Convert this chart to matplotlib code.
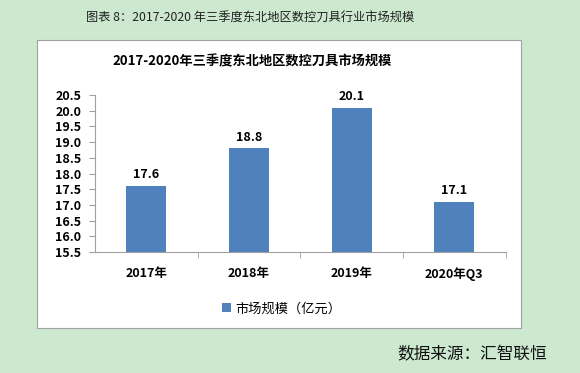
import matplotlib
matplotlib.use('Agg')
import matplotlib.pyplot as plt
from matplotlib.patches import Rectangle

plt.rcParams['font.family'] = ['Noto Sans CJK SC', 'DejaVu Sans']

# ---------------- DATA ----------------
categories = ["2017年", "2018年", "2019年", "2020年Q3"]
values = [17.6, 18.8, 20.1, 17.1]
yticks = [15.5, 16.0, 16.5, 17.0, 17.5, 18.0, 18.5, 19.0, 19.5, 20.0, 20.5]

caption = "图表 8：2017-2020 年三季度东北地区数控刀具行业市场规模"
chart_title = "2017-2020年三季度东北地区数控刀具市场规模"
series_name = "市场规模（亿元）"
source = "数据来源：汇智联恒"

bg = "#CCE8CF"
bar_color = "#4F81BD"

# ---------------- FIGURE ----------------
fig = plt.figure(figsize=(5.8, 3.73), dpi=100, facecolor=bg)

# white chart box
fig.patches.append(Rectangle((0.0638, 0.1206), 0.834, 0.772, transform=fig.transFigure,
                             facecolor="white", edgecolor="#A0A0A0", linewidth=0.8, zorder=-5))

fig.text(0.431, 0.952, caption, ha="center", va="center", fontsize=8.8, color="#222222")
fig.text(0.435, 0.835, chart_title, ha="center", va="center", fontsize=9.5, fontweight="bold")
fig.text(0.814, 0.05, source, ha="center", va="center", fontsize=12, color="#111111")

ax = fig.add_axes([0.1638, 0.3244, 0.708, 0.4209])
ax.set_facecolor("white")

x = range(len(categories))
bars = ax.bar(x, values, width=0.39, color=bar_color, label=series_name, zorder=2)
for xi, v in zip(x, values):
    ax.text(xi, v + 0.15, f"{v:.1f}", ha="center", va="bottom", fontsize=9, fontweight="bold")

ax.set_ylim(15.5, 20.5)
ax.set_yticks(yticks)
ax.set_yticklabels([f"{t:.1f}" for t in yticks], fontsize=9, fontweight="bold")
ax.set_xlim(-0.5, len(categories) - 0.5)
ax.set_xticks(list(x))
ax.set_xticklabels(categories, fontsize=9, fontweight="bold")

for s in ["top", "right"]:
    ax.spines[s].set_visible(False)
ax.spines["left"].set_color("#A0A0A0")
ax.spines["bottom"].set_color("#A0A0A0")
ax.tick_params(axis="y", length=4, color="#A0A0A0", direction="out", pad=6)
ax.tick_params(axis="x", length=0, pad=11)
# category boundary tick marks
ax.set_xticks([i + 0.5 for i in range(len(categories))], minor=True)
ax.tick_params(axis="x", which="minor", length=4, color="#A0A0A0", direction="out")

fig.legend(handles=[bars], labels=[series_name], loc="center", bbox_to_anchor=(0.485, 0.172),
           frameon=False, fontsize=9.5, handlelength=0.7, handleheight=0.7, handletextpad=0.3)

plt.savefig("out.png", dpi=100, facecolor=bg)
